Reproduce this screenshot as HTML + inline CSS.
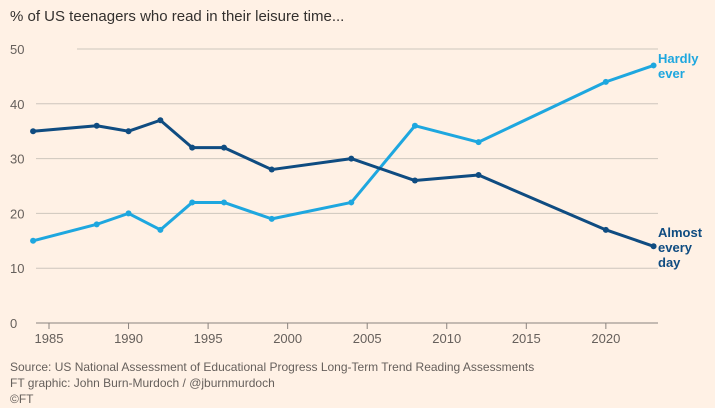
<!DOCTYPE html>
<html><head><meta charset="utf-8"><style>
body{margin:0;background:#fff1e5;font-family:"Liberation Sans",sans-serif;}
svg{display:block}
</style></head><body>
<svg width="715" height="408">
<rect width="715" height="408" fill="#fff1e5"/>
<text x="10" y="21" font-size="15" fill="#33302e">% of US teenagers who read in their leisure time...</text>
<g id="grid"></g><g id="lines"></g>
<text x="10" y="371" font-size="12" fill="#66605c">Source: US National Assessment of Educational Progress Long-Term Trend Reading Assessments</text>
<text x="10" y="387" font-size="12" fill="#66605c">FT graphic: John Burn-Murdoch / @jburnmurdoch</text>
<text x="10" y="403" font-size="12" fill="#66605c">©FT</text>
</svg>
<script>
const years=[1984,1988,1990,1992,1994,1996,1999,2004,2008,2012,2020,2023];
const almostEveryDay=[35,36,35,37,32,32,28,30,26,27,17,14];
const hardlyEver=[15,18,20,17,22,22,19,22,36,33,44,47];
const yTicks=[0,10,20,30,40,50];
const xTicks=[1985,1990,1995,2000,2005,2010,2015,2020];
const NS="http://www.w3.org/2000/svg";
const x=v=>49+(v-1985)*15.91;
const y=v=>323-v*5.48;
function mk(t,a,p){const e=document.createElementNS(NS,t);for(const k in a)e.setAttribute(k,a[k]);p.appendChild(e);return e;}
const g=document.getElementById('grid'),L=document.getElementById('lines');
yTicks.forEach(v=>{
 const l=mk('line',{x1:v===50?77:36,x2:658,y1:y(v),y2:y(v),stroke:v===0?'#8a837e':'#cec6bd','stroke-width':1},g);
 
 
 const t=mk('text',{x:10,y:y(v)+5,'font-size':13,fill:'#66605c'},g);t.textContent=v;
 
 
});
xTicks.forEach(v=>{
 const l=mk('line',{x1:x(v),x2:x(v),y1:323,y2:329,stroke:'#8a837e'},g);
 
 
 const t=mk('text',{x:x(v),y:343,'font-size':13,fill:'#66605c','text-anchor':'middle'},g);t.textContent=v;
 
 
});
function series(vals,col,name){
 const p=mk('polyline',{points:years.map((yr,i)=>x(yr)+','+y(vals[i])).join(' '),fill:'none',stroke:col,'stroke-width':3,'stroke-linejoin':'round'},L);
 
 
 years.forEach((yr,i)=>{const c=mk('circle',{cx:x(yr),cy:y(vals[i]),r:3,fill:col},L);
  
  });
}
series(hardlyEver,'#1ea7df','hardly-ever');
series(almostEveryDay,'#0f4c81','almost-every-day');
function label(lines,y0,col,name){
 const t=mk('text',{x:658,y:y0,'font-size':13,fill:col,'font-weight':'bold'},L);
 lines.forEach((s,i)=>{const ts=mk('tspan',{x:658,dy:i?15:0},t);ts.textContent=s;});
 
 
}
label(['Hardly','ever'],63,'#1ea7df','hardly-ever-label');
label(['Almost','every','day'],237,'#0f4c81','almost-every-day-label');
</script>
</body></html>
